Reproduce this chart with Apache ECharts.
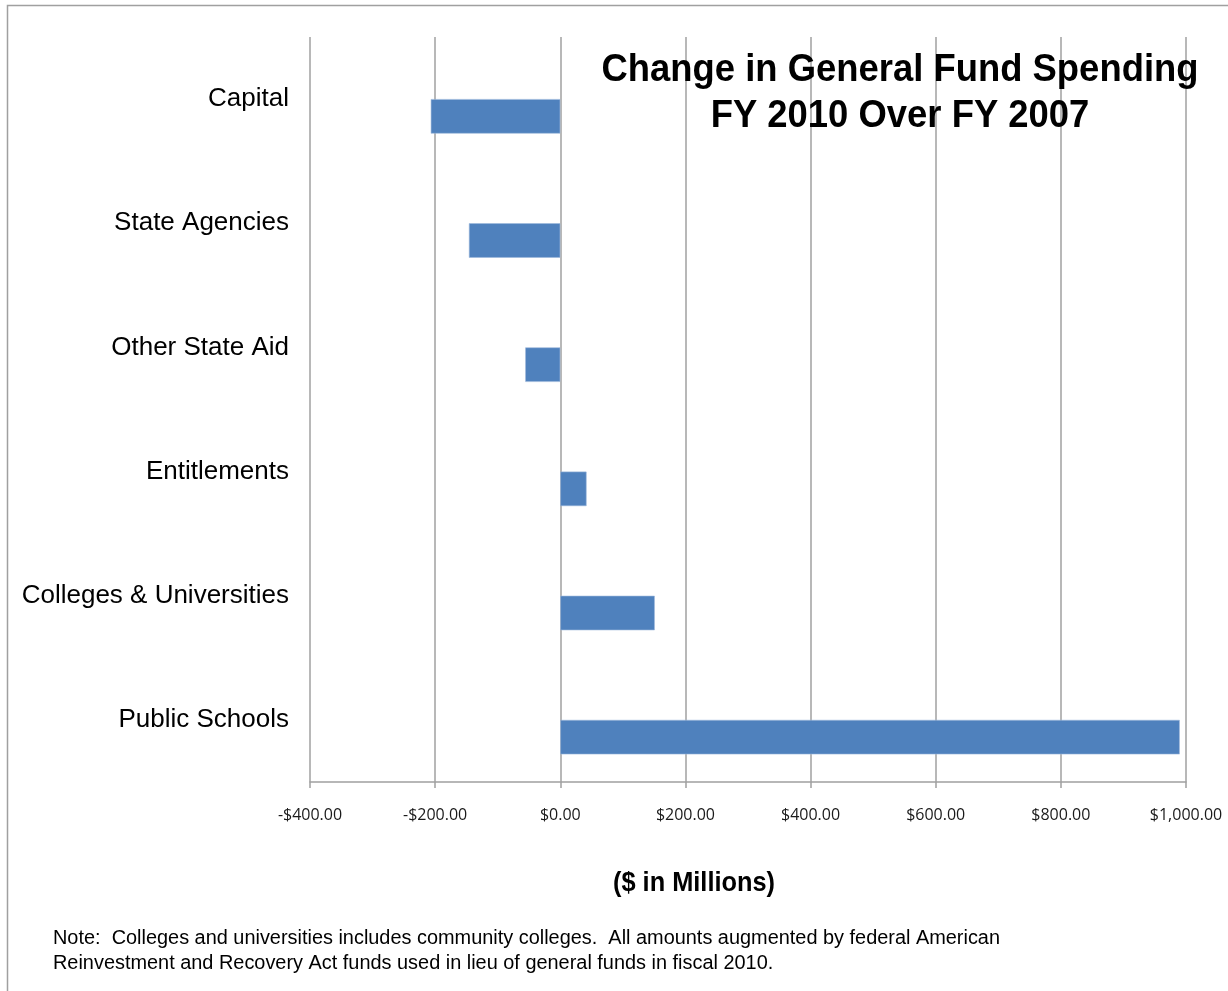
<!DOCTYPE html>
<html>
<head>
<meta charset="utf-8">
<title>Change in General Fund Spending</title>
<script src="https://cdn.jsdelivr.net/npm/echarts@6/dist/echarts.min.js"></script>
<style>
  html, body { margin: 0; padding: 0; background: #ffffff; }
  #chart { width: 1228px; height: 991px; }
</style>
</head>
<body>
<div id="chart"></div>
<script>
// Spending categories, top to bottom
const categories = ['Capital', 'State Agencies', 'Other State Aid', 'Entitlements', 'Colleges & Universities', 'Public Schools'];
// Change in general fund spending, FY 2010 over FY 2007 ($ millions)
const changeValues = [-207, -146, -56, 42, 151, 990];
// Value axis ticks ($ millions)
const xTicks = [-400, -200, 0, 200, 400, 600, 800, 1000];

const titleLines = ['Change in General Fund Spending', 'FY 2010 Over FY 2007'];
const axisTitle = '($ in Millions)';
const noteLines = [
  'Note:  Colleges and universities includes community colleges.  All amounts augmented by federal American',
  'Reinvestment and Recovery Act funds used in lieu of general funds in fiscal 2010.'
];

// Horizontal squeeze so a line of text spans the given width
const measureCtx = document.createElement('canvas').getContext('2d');
function squeeze(text, font, width) {
  measureCtx.font = font;
  return width / measureCtx.measureText(text).width;
}

const titleFont = 'bold 39px "Liberation Sans", Arial, sans-serif';
const titleScale = squeeze(titleLines[0], titleFont, 597);
const axisTitleFont = 'bold 27px "Liberation Sans", Arial, sans-serif';
const axisTitleScale = squeeze(axisTitle, axisTitleFont, 162);
const noteFont = '20px "Liberation Sans", Arial, sans-serif';
const noteScale = squeeze(noteLines[0], noteFont, 947);

function money(v) {
  const s = Math.abs(v).toLocaleString('en-US', { minimumFractionDigits: 2, maximumFractionDigits: 2 });
  return (v < 0 ? '-' : '') + '$' + s;
}

const chart = echarts.init(document.getElementById('chart'), null, { renderer: 'canvas' });

chart.setOption({
  animation: false,
  backgroundColor: '#ffffff',
  grid: { left: 310, right: 42, top: 37, bottom: 209, containLabel: false },
  xAxis: {
    type: 'value',
    min: xTicks[0],
    max: xTicks[xTicks.length - 1],
    interval: xTicks[1] - xTicks[0],
    axisLine: { show: true, lineStyle: { color: '#a0a0a0', width: 1.5 } },
    axisTick: { show: true, inside: false, length: 6, lineStyle: { color: '#a0a0a0', width: 1.5 } },
    splitLine: { show: true, lineStyle: { color: '#a0a0a0', width: 1.5 } },
    axisLabel: {
      margin: 25,
      color: '#1a1a1a',
      fontSize: 16,
      fontFamily: '"Open Sans", "Liberation Sans", sans-serif',
      formatter: money
    }
  },
  yAxis: {
    type: 'category',
    data: categories,
    inverse: true,
    axisLine: { show: false },
    axisTick: { show: false },
    splitLine: { show: false },
    axisLabel: {
      margin: 21,
      color: '#000000',
      fontSize: 26,
      padding: [6, 0, 0, 0],
      fontFamily: '"Liberation Sans", Arial, sans-serif'
    }
  },
  series: [
    {
      // empty leading slot so each bar sits just below its label
      name: 'spacer',
      type: 'bar',
      data: categories.map(() => null),
      barWidth: 34.5,
      barGap: '0%',
      silent: true
    },
    {
      name: 'Change',
      type: 'bar',
      data: changeValues,
      barWidth: 34.5,
      barGap: '0%',
      itemStyle: { color: '#4f81bd', borderColor: '#9db9dc', borderWidth: 0.6 }
    }
  ],
  graphic: [
    {
      type: 'rect',
      silent: true,
      shape: { x: 7.5, y: 5.5, width: 1400, height: 1200 },
      style: { fill: 'none', stroke: '#a0a0a0', lineWidth: 1.5 },
      z: -10
    },
    {
      type: 'text', x: 900, y: 70, scaleX: titleScale, z: 100,
      style: { text: titleLines[0], font: titleFont, fill: '#000000', align: 'center', verticalAlign: 'middle' }
    },
    {
      type: 'text', x: 900, y: 116, scaleX: titleScale, z: 100,
      style: { text: titleLines[1], font: titleFont, fill: '#000000', align: 'center', verticalAlign: 'middle' }
    },
    {
      type: 'text', x: 694, y: 884, scaleX: axisTitleScale,
      style: { text: axisTitle, font: axisTitleFont, fill: '#000000', align: 'center', verticalAlign: 'middle' }
    },
    {
      type: 'text', x: 53, y: 938, scaleX: noteScale,
      style: { text: noteLines[0], font: noteFont, fill: '#000000', align: 'left', verticalAlign: 'middle' }
    },
    {
      type: 'text', x: 53, y: 963, scaleX: noteScale,
      style: { text: noteLines[1], font: noteFont, fill: '#000000', align: 'left', verticalAlign: 'middle' }
    }
  ]
});
</script>
</body>
</html>
